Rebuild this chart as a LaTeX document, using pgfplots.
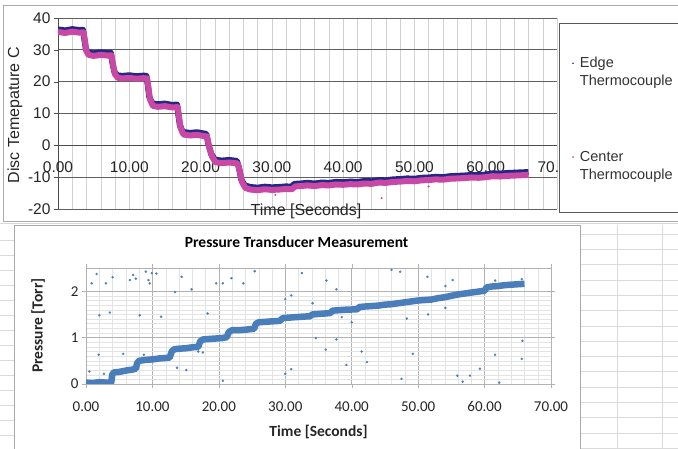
\documentclass[border=0pt]{standalone}
\usepackage{fontspec}
\setmainfont{Liberation Sans}
\newfontfamily\calibri{Carlito}
\usepackage{pgfplots}
\pgfplotsset{compat=1.18}

\definecolor{edgeblue}{RGB}{38,38,135}
\definecolor{centermag}{RGB}{200,72,165}
\definecolor{pblue}{RGB}{74,126,187}
\definecolor{cellgrid}{RGB}{218,218,218}
\definecolor{framegray}{RGB}{170,170,170}

\begin{document}
\begin{tikzpicture}
\useasboundingbox (0pt,0pt) rectangle (678pt,449pt);
\clip (0pt,0pt) rectangle (678pt,449pt);
\begin{scope}[x=1pt,y=1pt]
\fill[white] (0,0) rectangle (678,449);
% spreadsheet cells round the charts
\foreach \k in {0,...,14} {\draw[cellgrid] (580,{215-15.3*\k}) -- (678,{215-15.3*\k});}
\draw[cellgrid] (617,0) -- (617,224);
\draw[cellgrid] (662,0) -- (662,224);
\foreach \k in {0,...,14} {\draw[cellgrid] (0,{209-15*\k}) -- (14,{209-15*\k});}
\draw[cellgrid] (0,226) -- (678,226);
% chart frames
\draw[framegray,fill=white] (3,228) rectangle (690,444);
\draw[framegray,fill=white] (14.5,-5) rectangle (580,224);
% legend box of the top chart
\draw[gray!70!black,fill=white] (559,237) rectangle (690,426);
\end{scope}

% ---------- temperature chart ----------
\begin{axis}[
  at={(58pt,240pt)}, anchor=south west,
  scale only axis, width=499pt, height=191pt,
  xmin=0, xmax=70, ymin=-20, ymax=40,
  axis x line*=middle, axis y line*=left,
  hide obscured x ticks=false,
  xtick={0,10,...,70},
  xticklabels={0.00,10.00,20.00,30.00,40.00,50.00,60.00,70.\phantom{00}},
  ytick={-20,-10,...,40},
  yticklabels={-20,-10,0,10,20,30,40},
  minor x tick num=4,
  xmajorgrids, xminorgrids, ymajorgrids,
  major x grid style={draw=gray!35},
  minor x grid style={draw=gray!35},
  major y grid style={draw=gray!75!black, line width=0.7pt},
  axis line style={draw=gray!60!black, line width=0.7pt},
  tick align=outside, major tick length=4pt, minor tick length=0pt,
  xtick style={draw=none},
  ytick style={draw=gray!60!black},
  tick label style={font=\fontsize{15.5}{18}\selectfont, text=black!85},
  xticklabel style={yshift=-9pt},
  xlabel={Time [Seconds]},
  xlabel style={at={(axis description cs:0.497,-0.01)}, anchor=center, font=\fontsize{16}{19}\selectfont, text=black!85},
  ylabel={Disc Temepature C},
  ylabel style={at={(axis description cs:-0.086,0.49)}, anchor=center, font=\fontsize{16}{19}\selectfont, text=black!85},
  legend style={at={(axis description cs:1.030,0.806)}, anchor=north west, draw=none, fill=none,
    inner sep=0pt, row sep=60pt, column sep=4pt,
    font=\fontsize{14.5}{18}\selectfont, nodes={align=left, text=black!80}},
  legend cell align=left,
]
% Edge thermocouple
\addplot[edgeblue, line width=6pt, line join=round,
  legend image code/.code={\path[fill=edgeblue, draw=none] (0pt,9pt) circle (0.9pt);
    \path[draw=none, fill=none] (0pt,-9pt) circle (0.9pt);}] coordinates {
 (0,36.4)(1,36.1)(2,36.5)(3,36.2)(3.5,36.3)(3.7,33.3)(3.9,30.3)(4.2,29.2)(5,28.9)(6,29.2)(7,29.0)(7.4,29.1)
 (7.6,26.3)(7.9,23.1)(8.3,22.0)(9,21.8)(10,22.0)(11,21.7)(12,21.9)(12.4,21.8)(12.6,18.8)(12.8,15.3)(13.2,13.2)
 (14,12.9)(15,13.1)(16,12.7)(16.7,12.8)(16.9,9.3)(17.1,6.3)(17.5,4.2)(18.5,3.9)(19.5,4.1)(20.5,3.7)(20.8,3.6)
 (21.1,0.3)(21.5,-2.7)(22.0,-4.5)(23,-4.8)(24,-4.6)(25.1,-4.9)(25.4,-7.2)(25.7,-10.7)(26.2,-12.6)(27,-13.1)
 (28,-13.3)(29,-13.0)(30,-13.2)(31,-13.1)(32,-12.9)(32.7,-13.0)(33.2,-12.1)(34,-12.0)(35,-11.8)(36,-12.0)
 (37,-11.7)(38,-11.8)(39,-11.5)(40,-11.6)(41,-11.4)(42,-11.5)(43,-11.2)(44,-11.3)(45,-10.9)(46,-11.0)
 (47,-10.7)(48,-10.6)(49,-10.4)(50,-10.5)(51,-10.2)(52,-10.1)(53,-9.9)(54,-10.0)(55,-9.7)(56,-9.6)
 (57,-9.5)(58,-9.3)(59,-9.4)(60,-9.2)(61,-8.8)(62,-8.9)(63,-8.7)(64,-8.6)(65,-8.5)(66,-8.4)
};
\addlegendentry{Edge\\Thermocouple}
% Center thermocouple
\addplot[centermag, line width=6pt, line join=round,
  legend image code/.code={\path[fill=centermag, draw=none] (0pt,9pt) circle (0.9pt);
    \path[draw=none, fill=none] (0pt,-9pt) circle (0.9pt);}] coordinates {
 (0,35.6)(1,35.3)(2,35.7)(3,35.4)(3.6,35.5)(3.8,32.5)(4.0,29.5)(4.3,28.4)(5,28.1)(6,28.4)(7,28.2)(7.5,28.3)
 (7.7,25.5)(8.0,22.3)(8.4,21.2)(9,21.0)(10,21.2)(11,20.9)(12,21.1)(12.5,21.0)(12.7,18.0)(12.9,14.5)(13.3,12.4)
 (14,12.1)(15,12.3)(16,11.9)(16.8,12.0)(17.0,8.5)(17.2,5.5)(17.6,3.4)(18.5,3.1)(19.5,3.3)(20.5,2.9)(20.9,2.8)
 (21.2,-0.5)(21.6,-3.5)(22.1,-5.3)(23,-5.6)(24,-5.4)(25.2,-5.7)(25.5,-8.0)(25.8,-11.5)(26.3,-13.4)(27,-13.9)
 (28,-14.1)(29,-13.8)(30,-14.0)(31,-13.9)(32,-13.7)(32.8,-13.8)(33.3,-12.9)(34,-12.8)(35,-12.6)(36,-12.8)
 (37,-12.5)(38,-12.6)(39,-12.3)(40,-12.4)(41,-12.2)(42,-12.3)(43,-12.0)(44,-12.1)(45,-11.7)(46,-11.8)
 (47,-11.5)(48,-11.4)(49,-11.2)(50,-11.3)(51,-11.0)(52,-10.9)(53,-10.7)(54,-10.8)(55,-10.5)(56,-10.4)
 (57,-10.3)(58,-10.1)(59,-10.2)(60,-10.0)(61,-9.7)(62,-9.8)(63,-9.6)(64,-9.5)(65,-9.4)(66,-9.3)
};
\addlegendentry{Center\\Thermocouple}
\addplot[only marks, mark=*, mark size=0.8pt, centermag, forget plot] coordinates {
 (45.4,-16.6)(30.5,-15.6)(52.0,-12.9)
};
\end{axis}

% ---------- pressure chart ----------
\begin{axis}[
  at={(86pt,65pt)}, anchor=south west,
  scale only axis, width=465pt, height=116pt,
  xmin=0, xmax=70, ymin=0, ymax=2.5,
  xtick={0,10,...,70},
  xticklabels={0.00,10.00,20.00,30.00,40.00,50.00,60.00,70.00},
  ytick={0,1,2}, yticklabels={0,1,2},
  minor x tick num=4, minor y tick num=9,
  grid=both,
  major grid style={draw=gray!60, line width=0.6pt},
  minor grid style={draw=gray!22},
  axis line style={draw=gray!60},
  tick align=outside, major tick length=4pt, minor tick length=0pt,
  tick style={draw=gray!60},
  tick label style={font=\calibri\fontsize{15}{18}\selectfont, text=black!85},
  xticklabel style={yshift=-10pt},
  title={Pressure Transducer Measurement},
  title style={at={(axis description cs:0.453,1.17)}, anchor=center, font=\calibri\bfseries\fontsize{15.5}{18}\selectfont},
  xlabel={Time [Seconds]},
  xlabel style={at={(axis description cs:0.5,-0.41)}, anchor=center, font=\calibri\bfseries\fontsize{15.5}{18}\selectfont, text=black!85},
  ylabel={Pressure [Torr]},
  ylabel style={at={(axis description cs:-0.103,0.504)}, anchor=center, font=\calibri\bfseries\fontsize{15.5}{18}\selectfont, text=black!85},
]
\addplot[pblue, line width=6.5pt, line join=round] coordinates {
 (0,0.03)(1,0.02)(2,0.04)(3,0.03)(3.8,0.03)(3.95,0.20)(4.2,0.25)(5,0.26)(6,0.29)(7,0.31)(7.5,0.33)
 (7.7,0.45)(8,0.50)(9,0.52)(10,0.53)(11,0.55)(12,0.56)(12.6,0.57)(12.9,0.70)(13.3,0.75)(14,0.76)(15,0.77)
 (16,0.79)(16.9,0.80)(17.2,0.92)(17.6,0.96)(18.5,0.97)(19.5,0.98)(20.5,0.99)(21.2,1.01)(21.5,1.12)(22,1.16)
 (23,1.16)(24,1.17)(25.3,1.19)(25.6,1.30)(26,1.33)(27,1.34)(28,1.35)(29.2,1.36)(29.6,1.42)(30.5,1.43)
 (31.5,1.44)(32.5,1.45)(33.7,1.46)(34.1,1.50)(35,1.51)(36,1.52)(36.8,1.53)(37.1,1.58)(38,1.59)(39,1.60)
 (40.8,1.61)(41.2,1.66)(42,1.67)(43,1.68)(44,1.69)(45,1.71)(46,1.72)(47,1.74)(48,1.76)(49,1.78)(50,1.80)
 (51,1.81)(52,1.82)(53,1.85)(54,1.87)(55,1.90)(56,1.93)(57,1.95)(58,1.97)(59,1.99)(60,2.01)(60.3,2.08)
 (61,2.10)(62,2.11)(63,2.13)(64,2.14)(65,2.15)(66,2.16)
};
\addplot[only marks, mark=*, mark size=1pt, pblue] coordinates {
 (0.86,2.17)(1.6,2.37)(3.0,2.17)(2.0,1.48)(3.6,1.54)(1.9,0.63)(0.5,0.27)(2.7,0.22)(4.0,2.30)(5.6,0.65)
 (6.6,2.24)(7.1,2.35)(7.5,2.27)(8.1,1.48)(9.0,2.42)(9.4,2.24)(9.6,2.17)(8.7,0.63)(9.9,2.39)(10.6,2.38)
 (11.3,1.45)(13.4,1.98)(13.7,0.35)(14.4,2.31)(15.1,0.30)(15.9,2.04)(16.9,0.70)(18.3,1.52)(17.6,0.68)
 (19.6,2.17)(20.6,2.17)(20.6,0.07)(21.9,2.28)(23.7,2.17)(25.4,2.43)(30.0,0.22)(30.9,0.32)(30.0,1.83)
 (30.9,1.91)(32.5,2.39)(34.6,0.99)(36.1,0.74)(36.2,2.23)(37.7,2.04)(37.7,0.96)(34.1,1.74)(38.5,1.44)
 (40.0,1.33)(39.2,0.41)(41.5,0.70)(42.3,0.47)(46.0,2.46)(47.3,2.42)(51.4,2.31)(54.1,2.11)(55.2,2.24)
 (48.3,1.41)(51.5,1.50)(54.1,1.64)(49.2,0.65)(47.5,0.11)(55.9,0.18)(56.7,0.05)(57.8,0.18)(59.3,0.33)
 (61.6,0.63)(62.2,0.03)(61.6,2.23)(65.6,2.26)(65.7,0.93)(65.6,0.54)
};
\end{axis}
\end{tikzpicture}
\end{document}
